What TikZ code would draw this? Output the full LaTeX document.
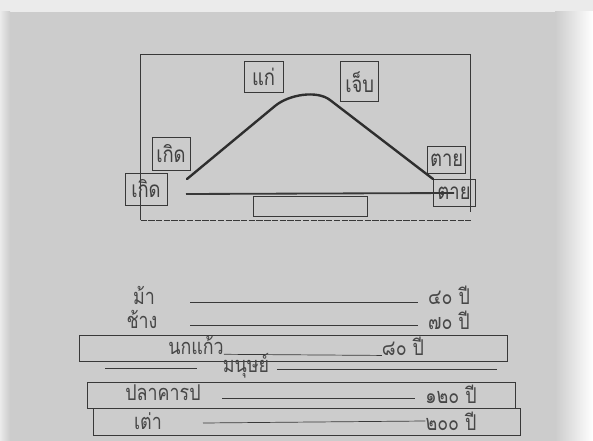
\documentclass[tikz,border=0pt]{standalone}
\usepackage{fontspec}
\newfontfamily\thaifont[Script=Thai, FakeStretch=0.82]{Loma}
\begin{document}
\begin{tikzpicture}[x=0.05cm, y=-0.05cm,
    ink/.style={draw=black!78},
    cbox/.style={ink, line width=1pt, inner sep=0pt, text=black!75,
                 font=\thaifont\fontsize{32}{32}\selectfont},
    rtxt/.style={inner sep=0pt, text=black!72, font=\thaifont\fontsize{31}{31}\selectfont},
    rline/.style={ink, line width=1pt},
    life/.style={draw=black!82, line width=3.4pt, line cap=round}]
    % paper
    \useasboundingbox (0,0) rectangle (593,441);
    \fill[black!20] (0,0) rectangle (593,441);
    \fill[white!92!black] (0,0) rectangle (593,12);
    \shade[left color=black!20, right color=white] (555,12) rectangle (593,441);
    \shade[left color=white!92!black, right color=black!20] (0,12) rectangle (10,441);

    % frame of the life picture
    \draw[ink, line width=1pt] (140.5,220) -- (140.5,54) -- (470.5,54) -- (470.5,212);
    \draw[ink, line width=1pt, dash pattern=on 9pt off 2pt] (140.5,220) -- (470.5,220);

    % labels
    \node[cbox, minimum width=1.95cm, minimum height=1.55cm] (kae)    at (263.6,77.2) {แก่};
    \node[cbox, minimum width=1.9cm,  minimum height=2cm]    (jeb)    at (359.7,81.7) {เจ็บ};
    \node[cbox, minimum width=1.9cm,  minimum height=1.65cm] (koet1)  at (171,154)    {เกิด};
    \node[cbox, minimum width=2.1cm,  minimum height=1.6cm]  (koet2)  at (146,189)    {เกิด};
    \node[cbox, minimum width=1.9cm,  minimum height=1.35cm] (tai1)   at (446.7,160)  {ตาย};
    \node[cbox, minimum width=2.1cm,  minimum height=1.35cm] (tai2)   at (454,193)    {ตาย};

    % curve and base line
    \coordinate (cs) at (187,179);
    \coordinate (ce) at (433,179);
    \draw[life] (cs) -- (275,106) .. controls (289,94.4) and (317,90) .. (330,100) -- (ce);
    \coordinate (bs) at (186,194);
    \draw[ink, line width=2.6pt] (bs) -- (tai2.center);
    \draw[ink, line width=1pt] (253,196) rectangle (367,216);

    % ages
    \node[rtxt] (ma)      at (144,295)   {ม้า};
    \node[rtxt] (ma-y)    at (449,295)   {๔๐ ปี};
    \draw[rline] (190,302.7) -- (418,302.7);
    \node[rtxt] (chang)   at (142,319)   {ช้าง};
    \node[rtxt] (chang-y) at (449,320)   {๗๐ ปี};
    \draw[rline] (190,325) -- (418,325);

    \draw[rline] (79,335) rectangle (507,361);
    \node[rtxt] (nok)     at (196,345)   {นกแก้ว};
    \node[rtxt] (nok-y)   at (403,346)   {๘๐ ปี};
    \draw[rline] (nok.south east) -- (nok-y.south west);

    \node[rtxt] (khon)    at (246,366)   {มนุษย์};
    \draw[rline] (105,368) -- (197,368);
    \draw[rline] (277,369) -- (497,369);

    \draw[rline] (87,382) rectangle (515,408);
    \node[rtxt] (pla)     at (163,393)   {ปลาคารป};
    \node[rtxt] (pla-y)   at (451,394)   {๑๒๐ ปี};
    \draw[rline] (222,398) -- (415,398);

    \draw[rline] (93,408) rectangle (520,435);
    \node[rtxt] (tao)     at (148,421)   {เต่า};
    \node[rtxt] (tao-y)   at (451,421)   {๒๐๐ ปี};
    \draw[rline] (203,423) -- (tao-y.west);
\end{tikzpicture}
\end{document}
